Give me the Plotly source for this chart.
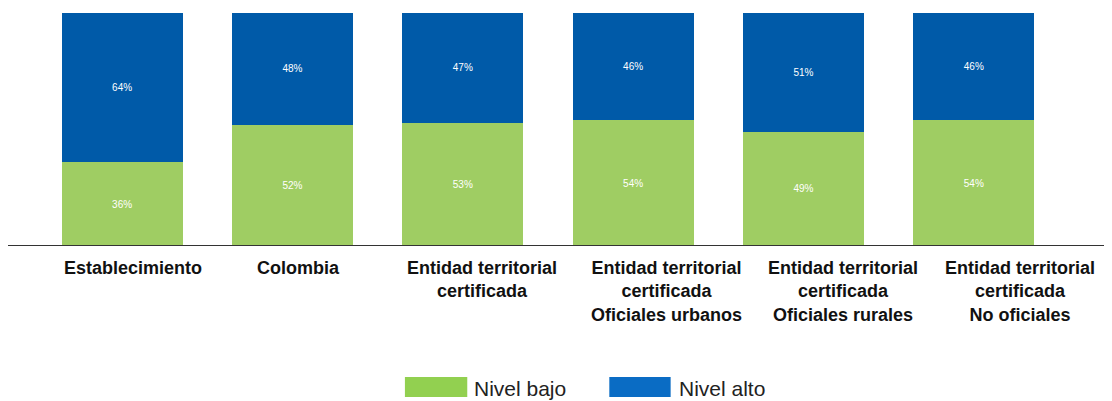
import plotly.graph_objects as go

categorias = [
    "Establecimiento",
    "Colombia",
    "Entidad territorial<br>certificada",
    "Entidad territorial<br>certificada<br>Oficiales urbanos",
    "Entidad territorial<br>certificada<br>Oficiales rurales",
    "Entidad territorial<br>certificada<br>No oficiales",
]
nivel_bajo = [36, 52, 53, 54, 49, 54]
nivel_alto = [64, 48, 47, 46, 51, 46]

VERDE = "#9FCD63"
AZUL = "#005AA8"
LABEL_FONT = "Liberation Sans Narrow, Arial Narrow, Arial, sans-serif"

x_idx = list(range(len(categorias)))

fig = go.Figure()
fig.add_trace(go.Bar(
    x=x_idx, y=nivel_bajo, name="Nivel bajo",
    marker=dict(color=VERDE, line=dict(width=0)),
    text=[f"{v}%" for v in nivel_bajo],
    textposition="inside", insidetextanchor="middle", textangle=0,
    textfont=dict(color="white", size=10, family="Arial, sans-serif"),
))
fig.add_trace(go.Bar(
    x=x_idx, y=nivel_alto, name="Nivel alto",
    marker=dict(color=AZUL, line=dict(width=0)),
    text=[f"{v}%" for v in nivel_alto],
    textposition="inside", insidetextanchor="middle", textangle=0,
    textfont=dict(color="white", size=10, family="Arial, sans-serif"),
))

# etiquetas de categoria (ligeramente desplazadas como en el original)
desplaz = [11, 6, 19, 33, 39, 46]
anots = []
for i, (cat, dx) in enumerate(zip(categorias, desplaz)):
    anots.append(dict(
        x=i, y=0, xref="x", yref="paper", text=f"<b>{cat}</b>",
        showarrow=False, yanchor="top", xanchor="center", yshift=-10, xshift=dx,
        font=dict(family=LABEL_FONT, size=18, color="#111"), align="center",
    ))

# leyenda manual
shapes = [
    dict(type="line", xref="paper", yref="y", x0=-0.03, x1=1.06, y0=0, y1=0,
         line=dict(color="#333", width=2)),
    dict(type="rect", xref="paper", yref="paper", x0=0.360, x1=0.421, y0=-0.648, y1=-0.562,
         fillcolor="#92D050", line=dict(width=0)),
    dict(type="rect", xref="paper", yref="paper", x0=0.560, x1=0.620, y0=-0.648, y1=-0.562,
         fillcolor="#0A6CC4", line=dict(width=0)),
]
for x, txt in [(0.4256, "Nivel bajo"), (0.6265, "Nivel alto")]:
    anots.append(dict(
        x=x, y=-0.61, xref="paper", yref="paper", text=txt, showarrow=False,
        xanchor="left", yanchor="middle",
        font=dict(family="Arial, sans-serif", size=21, color="#222"),
    ))

fig.update_layout(
    barmode="stack",
    bargap=0.29,
    width=1104, height=393,
    margin=dict(l=29, r=53, t=5, b=155),
    plot_bgcolor="white", paper_bgcolor="white",
    showlegend=False,
    xaxis=dict(showticklabels=False, showgrid=False, zeroline=False, showline=False,
               range=[-0.5, len(categorias) - 0.5]),
    yaxis=dict(range=[0, 100], visible=False),
    annotations=anots,
    shapes=shapes,
)

fig.write_html("out.html")
